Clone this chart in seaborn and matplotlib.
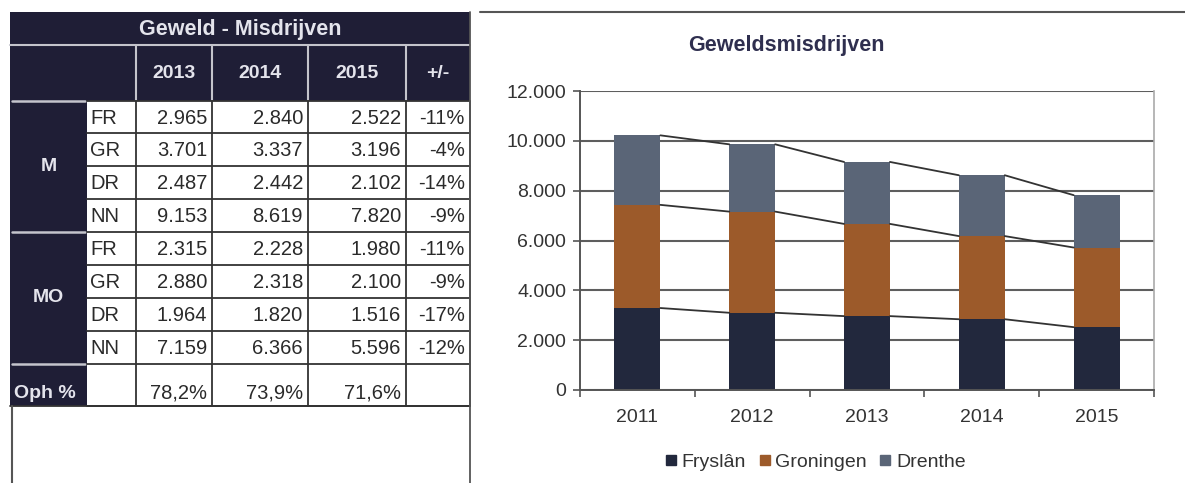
import matplotlib
matplotlib.use("Agg")
import matplotlib.pyplot as plt
import seaborn as sns
import pandas as pd
from matplotlib.lines import Line2D
from matplotlib.patches import Rectangle
from matplotlib.ticker import FixedLocator, FuncFormatter

# ---------------- data ----------------
table_title = "Geweld - Misdrijven"
table_years = ["2013", "2014", "2015"]
table_change_header = "+/-"
group_labels = ["M", "MO"]
region_codes = ["FR", "GR", "DR", "NN"]
m_2013 = ["2.965", "3.701", "2.487", "9.153"]
m_2014 = ["2.840", "3.337", "2.442", "8.619"]
m_2015 = ["2.522", "3.196", "2.102", "7.820"]
m_change = ["-11%", "-4%", "-14%", "-9%"]
mo_2013 = ["2.315", "2.880", "1.964", "7.159"]
mo_2014 = ["2.228", "2.318", "1.820", "6.366"]
mo_2015 = ["1.980", "2.100", "1.516", "5.596"]
mo_change = ["-11%", "-9%", "-17%", "-12%"]
oph_label = "Oph %"
oph_values = ["78,2%", "73,9%", "71,6%"]

chart_title = "Geweldsmisdrijven"
years = ["2011", "2012", "2013", "2014", "2015"]
fryslan = [3290, 3100, 2965, 2840, 2522]
groningen = [4140, 4060, 3701, 3337, 3196]
drenthe = [2790, 2700, 2487, 2442, 2102]
series_names = ["Fryslân", "Groningen", "Drenthe"]

# ---------------- style ----------------
sns.set_theme(style="white")
plt.rcParams["font.family"] = ["Liberation Sans", "DejaVu Sans"]

C_FR = "#22283d"
C_GR = "#9c5a2a"
C_DR = "#5a6577"
DARK = "#1f1e36"
LIGHT_TXT = "#e4e4ec"
BODY_TXT = "#2a2a2a"

W, H = 1185, 483
fig = plt.figure(figsize=(W / 100, H / 100), dpi=100)
fig.patch.set_facecolor("white")

# ---------------- table (pixel-space axes) ----------------
bg = fig.add_axes([0, 0, 1, 1])
bg.set_xlim(0, W)
bg.set_ylim(H, 0)
bg.axis("off")

xe = [10, 87, 136, 212, 308, 406, 470]
row_edges = [101, 133, 166, 199, 232, 265, 298, 331, 364, 406]

bg.add_patch(Rectangle((xe[0], 12), xe[-1] - xe[0], 101 - 12, color=DARK, lw=0))
bg.add_patch(Rectangle((xe[0], 101), xe[1] - xe[0], 406 - 101, color=DARK, lw=0))

sep = "#c4c4cc"
bg.plot([xe[0], xe[-1]], [45, 45], color=sep, lw=1.5)
for x in xe[2:6]:
    bg.plot([x, x], [45, 101], color=sep, lw=1.5)
for y in [101, 232, 364]:
    bg.plot([xe[0] + 2, xe[1] - 2], [y, y], color=sep, lw=1.8)

grid_c = "#333333"
for y in row_edges:
    bg.plot([xe[1], xe[-1]], [y, y], color=grid_c, lw=1.3)
for x in xe[2:]:
    bg.plot([x, x], [101, 406], color=grid_c, lw=1.3)
bg.plot([xe[0], xe[-1]], [406, 406], color=grid_c, lw=1.3)
bg.plot([12, 12], [406, H], color="#555555", lw=1.5)
bg.plot([xe[-1], xe[-1]], [12, H], color="#555555", lw=1.3)

bg.text((xe[0] + xe[-1]) / 2, 30, table_title, color=LIGHT_TXT, fontsize=15.5,
        fontweight="bold", ha="center", va="center")
for i, lab in enumerate(table_years + [table_change_header]):
    bg.text((xe[2 + i] + xe[3 + i]) / 2, 73, lab, color=LIGHT_TXT, fontsize=14,
            fontweight="bold", ha="center", va="center")

blocks = [(m_2013, m_2014, m_2015, m_change), (mo_2013, mo_2014, mo_2015, mo_change)]
for g, (a, b, c, d) in enumerate(blocks):
    r0 = g * 4
    top, bot = row_edges[r0], row_edges[r0 + 4]
    bg.text((xe[0] + xe[1]) / 2, (top + bot) / 2, group_labels[g], color=LIGHT_TXT,
            fontsize=14, fontweight="bold", ha="center", va="center")
    for k in range(4):
        yc = (row_edges[r0 + k] + row_edges[r0 + k + 1]) / 2 + 1
        bg.text(xe[1] + 3, yc, region_codes[k], color=BODY_TXT, fontsize=14.5,
                ha="left", va="center")
        for j, col in enumerate([a, b, c, d]):
            bg.text(xe[3 + j] - 5, yc, col[k], color=BODY_TXT, fontsize=14.5,
                    ha="right", va="center")

bg.text(xe[0] + 4, 393, oph_label, color=LIGHT_TXT, fontsize=14,
        fontweight="bold", ha="left", va="center")
for j, v in enumerate(oph_values):
    bg.text(xe[3 + j] - 5, 393, v, color=BODY_TXT, fontsize=14.5, ha="right", va="center")

# chart panel top border
bg.plot([480, W], [12, 12], color="#555555", lw=1.5)

# ---------------- stacked bar chart ----------------
ax = fig.add_axes([580 / W, 1 - 390 / H, (1154 - 580) / W, (390 - 91) / H])
df = pd.DataFrame({"year": years, "fr": fryslan, "gr": groningen, "dr": drenthe})
df["lvl1"] = df["fr"]
df["lvl2"] = df["fr"] + df["gr"]
df["lvl3"] = df["lvl2"] + df["dr"]

layers = [("lvl3", C_DR), ("lvl2", C_GR), ("lvl1", C_FR)]
for col, c in layers:
    sns.barplot(data=df, x="year", y=col, color=c, width=0.4, saturation=1,
                linewidth=0, ax=ax, zorder=2)

# series lines connecting segment tops
for cont in ax.containers:
    bars = list(cont)
    for p, q in zip(bars[:-1], bars[1:]):
        ax.plot([p.get_x() + p.get_width(), q.get_x()],
                [p.get_y() + p.get_height(), q.get_y() + q.get_height()],
                color="#333333", lw=1.3, zorder=3)

ax.set_ylim(0, 12000)
ax.set_xlim(-0.5, len(years) - 0.5)
ax.yaxis.set_major_locator(FixedLocator(list(range(0, 12001, 2000))))
ax.yaxis.set_major_formatter(FuncFormatter(lambda v, p: f"{int(v):,}".replace(",", ".")))
ax.set_axisbelow(True)
ax.yaxis.grid(True, color="#5e5e5e", lw=1.5)
ax.xaxis.grid(False)
ax.set_xlabel("")
ax.set_ylabel("")
for s in ["left", "bottom"]:
    ax.spines[s].set_color("#555555")
    ax.spines[s].set_linewidth(1.4)
ax.spines["right"].set_color("#aaaaaa")
ax.spines["right"].set_linewidth(1.2)
ax.spines["top"].set_visible(False)
ax.tick_params(axis="y", length=5, width=1.2, color="#555555", direction="out",
               labelsize=14, labelcolor="#333333", pad=5, left=True)
ax.tick_params(axis="x", which="major", length=0, labelsize=14,
               labelcolor="#333333", pad=14)
ax.xaxis.set_minor_locator(FixedLocator([i - 0.5 for i in range(len(years) + 1)]))
ax.tick_params(axis="x", which="minor", length=5, width=1.2, color="#555555",
               direction="out", bottom=True)

fig.text(786 / W, 1 - 46 / H, chart_title, fontsize=15.5, fontweight="bold",
         color="#2f2f4f", ha="center", va="center")

handles = [Line2D([], [], marker="s", linestyle="", markersize=6.5, color=c)
           for c in [C_FR, C_GR, C_DR]]
fig.legend(handles, series_names, loc="center", bbox_to_anchor=(816 / W, 1 - 462 / H),
           ncol=3, frameon=False, fontsize=14, handlelength=0.5,
           handletextpad=0.3, columnspacing=0.7, labelcolor="#333333")

fig.savefig("out.png", dpi=100, facecolor="white")
